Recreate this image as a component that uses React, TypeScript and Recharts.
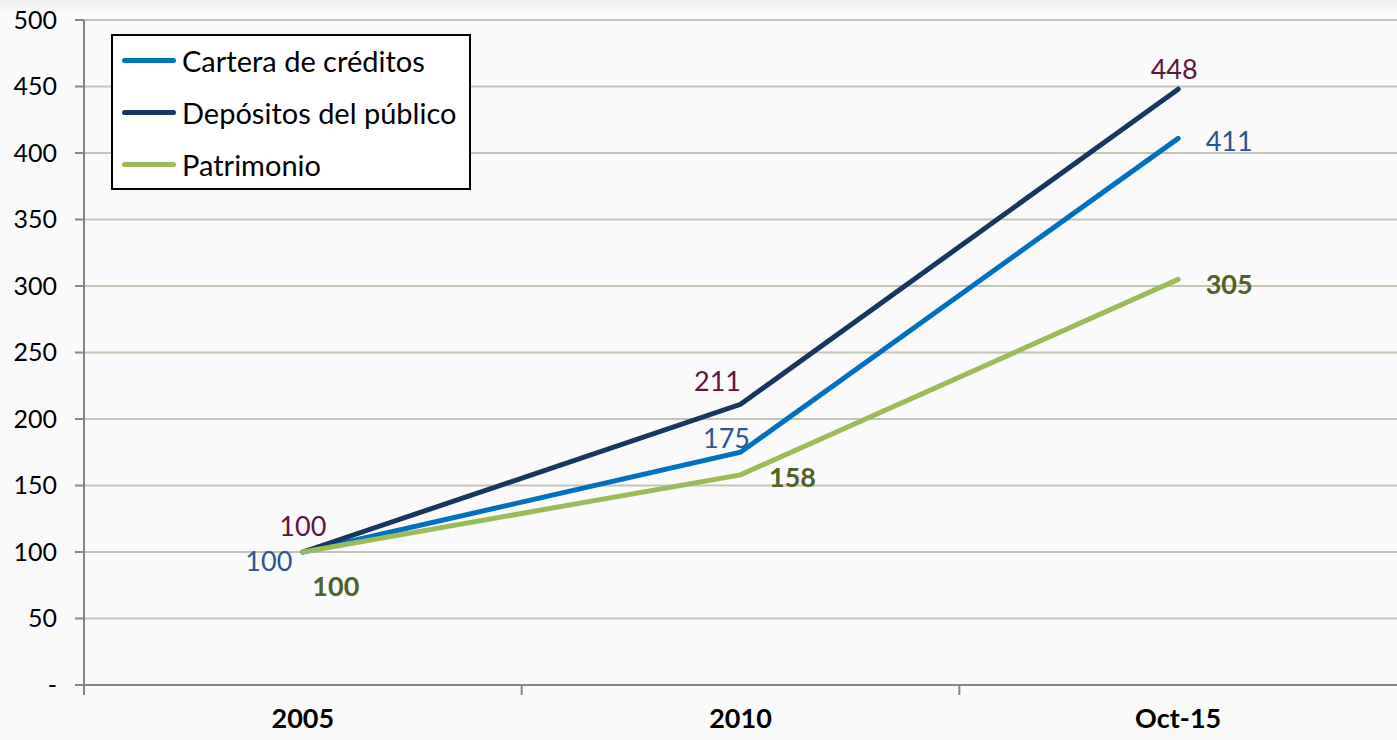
import React from 'react';
import { LineChart, Line, XAxis, YAxis, CartesianGrid, Legend, LabelList } from 'recharts';

const categories = ['2005', '2010', 'Oct-15'];
const cartera = [100, 175, 411];
const depositos = [100, 211, 448];
const patrimonio = [100, 158, 305];
const yTicks = [0, 50, 100, 150, 200, 250, 300, 350, 400, 450, 500];

const data = categories.map((c, i) => ({
  name: c,
  cartera: cartera[i],
  depositos: depositos[i],
  patrimonio: patrimonio[i],
}));

const W = 1397;
const H = 740;
const PLOT_LEFT = 84;
const BAND = (W - PLOT_LEFT) / categories.length;
const FONT = 'Lato, "Open Sans", sans-serif';

// label offsets (dx, dy) from each point, per series
const labelPos: Record<string, [number, number][]> = {
  cartera: [[-34, 8], [-14, -15], [51, 2]],
  depositos: [[0, -27], [-23, -24], [-4, -21]],
  patrimonio: [[33, 33], [52, 2], [51, 4]],
};

const series = [
  { key: 'cartera', name: 'Cartera de créditos', color: '#0070C0', label: '#2B5592', bold: false },
  { key: 'depositos', name: 'Depósitos del público', color: '#17375E', label: '#5B1641', bold: false },
  { key: 'patrimonio', name: 'Patrimonio', color: '#9BBB59', label: '#4F6228', bold: true },
];

function makeLabel(key: string, color: string, bold: boolean) {
  return (props: any) => {
    const { x, y, value, index } = props;
    const [dx, dy] = labelPos[key][index];
    return (
      <text
        x={x + dx}
        y={y + dy}
        textAnchor="middle"
        dominantBaseline="central"
        fill={color}
        fontSize={27}
        fontWeight={bold ? 700 : 400}
        fontFamily={FONT}
      >
        {value}
      </text>
    );
  };
}

function XTick(props: any) {
  const { x, y, payload } = props;
  const bx = x - BAND / 2;
  return (
    <g>
      <line x1={bx} y1={y - 8} x2={bx} y2={y + 2} stroke="#868686" strokeWidth={2} />
      <text x={x} y={y + 35} textAnchor="middle" fontSize={27} fontWeight={700} fill="#000" fontFamily={FONT}>
        {payload.value}
      </text>
    </g>
  );
}

function LegendBox() {
  return (
    <div
      style={{
        width: 356,
        height: 152,
        border: '2px solid #000',
        background: '#fff',
        fontFamily: FONT,
        fontSize: 29,
        boxSizing: 'content-box',
      }}
    >
      {series.map((s, i) => (
        <div key={s.key} style={{ position: 'absolute', left: 11, top: 10 + i * 52, display: 'flex', alignItems: 'center', height: 32 }}>
          <div style={{ width: 54, height: 5, borderRadius: 3, background: s.color, marginRight: 6 }} />
          <span style={{ color: '#000', whiteSpace: 'nowrap' }}>{s.name}</span>
        </div>
      ))}
    </div>
  );
}

export default function App() {
  return (
    <div
      style={{
        position: 'absolute',
        left: 0,
        top: 0,
        width: W,
        height: H,
        background: 'linear-gradient(#eeeeee 0px, #fafafa 14px, #fafafa 100%)',
      }}
    >
      <LineChart width={W} height={H} data={data} margin={{ top: 20, right: 0, bottom: 0, left: 0 }}>
        <CartesianGrid horizontal vertical={false} stroke="#C4C4B4" strokeWidth={2} />
        <XAxis
          dataKey="name"
          height={55}
          padding={{ left: BAND / 2, right: BAND / 2 }}
          axisLine={{ stroke: '#868686', strokeWidth: 2 }}
          tickLine={false}
          tick={<XTick />}
          interval={0}
        />
        <YAxis
          width={PLOT_LEFT}
          domain={[0, 500]}
          ticks={yTicks}
          interval={0}
          tickFormatter={(v: number) => (v === 0 ? '-' : String(v))}
          axisLine={{ stroke: '#868686', strokeWidth: 2 }}
          tickLine={{ stroke: '#868686', strokeWidth: 2 }}
          tickSize={9}
          tickMargin={18}
          tick={{ fontSize: 25, fill: '#000', fontFamily: FONT }}
        />
        <Legend
          layout="vertical"
          align="center"
          verticalAlign="middle"
          wrapperStyle={{ top: 34, left: 111, width: 360 }}
          content={<LegendBox />}
        />
        {series.map((s) => (
          <Line
            key={s.key}
            type="linear"
            dataKey={s.key}
            name={s.name}
            stroke={s.color}
            strokeWidth={5}
            strokeLinecap="round"
            dot={false}
            activeDot={false}
            isAnimationActive={false}
          >
            <LabelList dataKey={s.key} content={makeLabel(s.key, s.label, s.bold)} />
          </Line>
        ))}
      </LineChart>
    </div>
  );
}
